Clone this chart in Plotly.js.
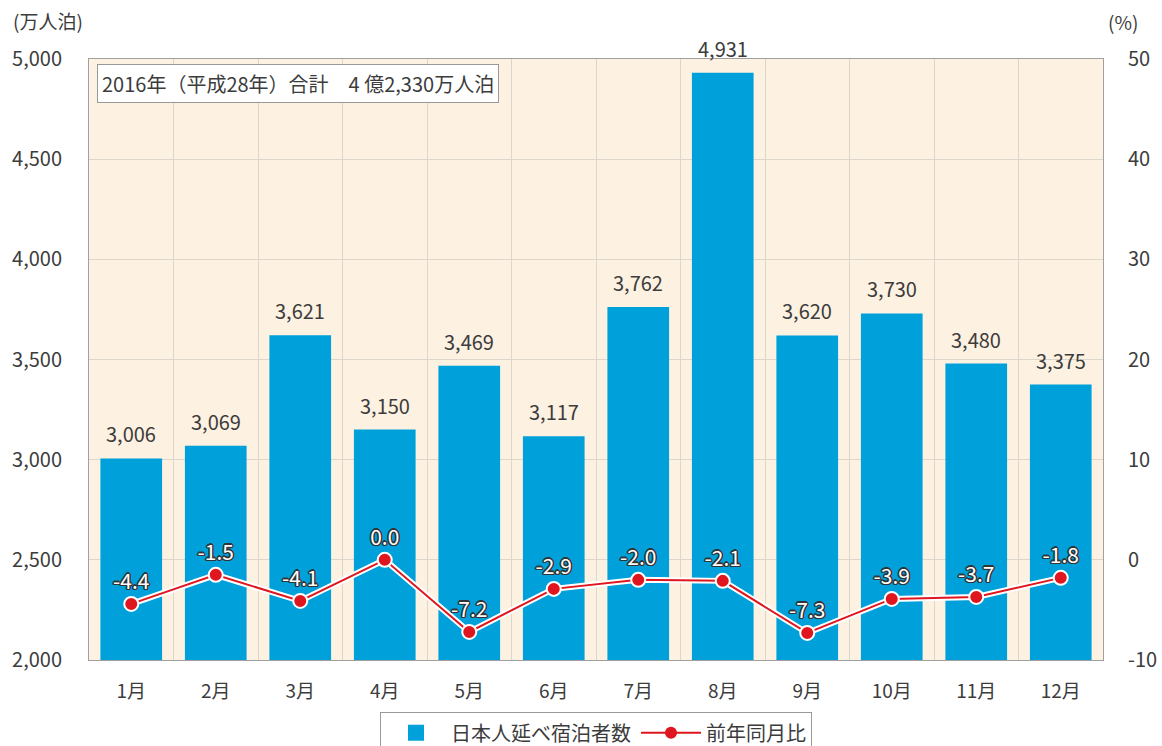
<!DOCTYPE html>
<html>
<head>
<meta charset="utf-8">
<script src="https://cdn.plot.ly/plotly-3.0.1.min.js"></script>
<style>html,body{margin:0;padding:0;background:#fff;}#chart{width:1162px;height:746px;}</style>
</head>
<body>
<div id="chart"></div>
<script>
const months = ["1月","2月","3月","4月","5月","6月","7月","8月","9月","10月","11月","12月"];
const guests = [3006, 3069, 3621, 3150, 3469, 3117, 3762, 4931, 3620, 3730, 3480, 3375];
const yoy = [-4.4, -1.5, -4.1, 0.0, -7.2, -2.9, -2.0, -2.1, -7.3, -3.9, -3.7, -1.8];
const leftTicks = [2000, 2500, 3000, 3500, 4000, 4500, 5000];
const rightTicks = [-10, 0, 10, 20, 30, 40, 50];
const barName = "日本人延べ宿泊者数";
const lineName = "前年同月比";
const totalNote = "2016年（平成28年）合計　4 億2,330万人泊";
const leftUnit = "(万人泊)";
const rightUnit = "(%)";

const FONT = "'Noto Sans CJK JP', 'Noto Sans', sans-serif";
const TXT = "#3c3c3c";
const fmt = v => v.toLocaleString('en-US');
const fmt1 = v => v.toFixed(1);
const BLUE = "#00a0da";
const RED = "#e0161e";

const traces = [
  {
    type: "bar", x: months, y: guests, name: barName,
    marker: {color: BLUE}, showlegend: false,
    hoverinfo: "skip"
  },
  {
    type: "scatter", mode: "lines", x: months, y: yoy, yaxis: "y2",
    line: {color: "#ffffff", width: 6}, showlegend: false, hoverinfo: "skip"
  },
  {
    type: "scatter", mode: "lines+markers+text", x: months, y: yoy, yaxis: "y2",
    name: lineName, showlegend: false,
    line: {color: RED, width: 2},
    marker: {color: RED, size: 14, line: {color: "#ffffff", width: 2}},
    text: yoy.map(fmt1), textposition: "top center",
    textfont: {family: FONT, size: 21, color: "#ffffff",
      shadow: "-1px -1px 0 #333, 1px -1px 0 #333, -1px 1px 0 #333, 1px 1px 0 #333, 0 1.5px 0 #333, 0 -1.5px 0 #333, 1.5px 0 0 #333, -1.5px 0 0 #333"},
    cliponaxis: false, hoverinfo: "skip"
  },
  // legend entries
  {
    type: "scatter", mode: "markers", x: [null], y: [null], name: barName,
    marker: {symbol: "square", color: BLUE, size: 24}, legendrank: 1
  },
  {
    type: "scatter", mode: "lines+markers", x: [null], y: [null], yaxis: "y2", name: lineName,
    line: {color: RED, width: 2}, marker: {color: RED, size: 12}, legendrank: 2
  }
];

const annotations = guests.map((v, i) => ({
  x: months[i], y: v, xref: "x", yref: "y", text: fmt(v), showarrow: false,
  yanchor: "bottom", yshift: 8, font: {family: FONT, size: 20, color: TXT}
}));
annotations.push({
  xref: "paper", yref: "paper", x: 0.008, y: 0.992, xanchor: "left", yanchor: "top",
  text: totalNote, showarrow: false, bgcolor: "#ffffff", bordercolor: "#999",
  borderwidth: 1, borderpad: 4, font: {family: FONT, size: 20, color: TXT}
});
annotations.push({
  xref: "paper", yref: "paper", x: -0.077, y: 1.064, xanchor: "left", yanchor: "middle",
  text: leftUnit, showarrow: false, font: {family: FONT, size: 19, color: TXT}
});
annotations.push({
  xref: "paper", yref: "paper", x: 1.003, y: 1.062, xanchor: "left", yanchor: "middle",
  text: rightUnit, showarrow: false, font: {family: FONT, size: 19, color: TXT}
});

const layout = {
  width: 1162, height: 746,
  margin: {l: 89, r: 59, t: 59, b: 86, autoexpand: false},
  paper_bgcolor: "#ffffff", plot_bgcolor: "#fdf1e2",
  font: {family: FONT, color: TXT},
  bargap: 0.27,
  showlegend: true,
  legend: {
    orientation: "h", x: 0.5, xanchor: "center", y: -0.087, yanchor: "top",
    bordercolor: "#999", borderwidth: 1, bgcolor: "#ffffff",
    font: {family: FONT, size: 20, color: TXT}, itemwidth: 60
  },
  xaxis: {
    range: [-0.5, 11.5],
    tickson: "boundaries", showgrid: true, gridcolor: "#ddd6cc", gridwidth: 1,
    ticks: "", showline: true, linecolor: "#a0a0a0", linewidth: 1, mirror: true,
    tickfont: {family: FONT, size: 19, color: TXT}, ticklabelstandoff: 14,
    fixedrange: true
  },
  yaxis: {
    range: [2000, 5000], tickvals: leftTicks, ticktext: leftTicks.map(fmt), showgrid: true,
    gridcolor: "#ddd6cc", zeroline: false, showline: true, linecolor: "#a0a0a0",
    mirror: true, ticks: "", ticklabelstandoff: 22,
    tickfont: {family: FONT, size: 20, color: TXT}
  },
  yaxis2: {
    range: [-10, 50], tickvals: rightTicks, ticktext: rightTicks.map(String),
    overlaying: "y", side: "right", showgrid: false,
    zeroline: false, ticks: "", ticklabelstandoff: 24,
    tickfont: {family: FONT, size: 20, color: TXT}
  },
  annotations: annotations
};

Plotly.newPlot("chart", traces, layout, {displayModeBar: false, staticPlot: true});
</script>
</body>
</html>
